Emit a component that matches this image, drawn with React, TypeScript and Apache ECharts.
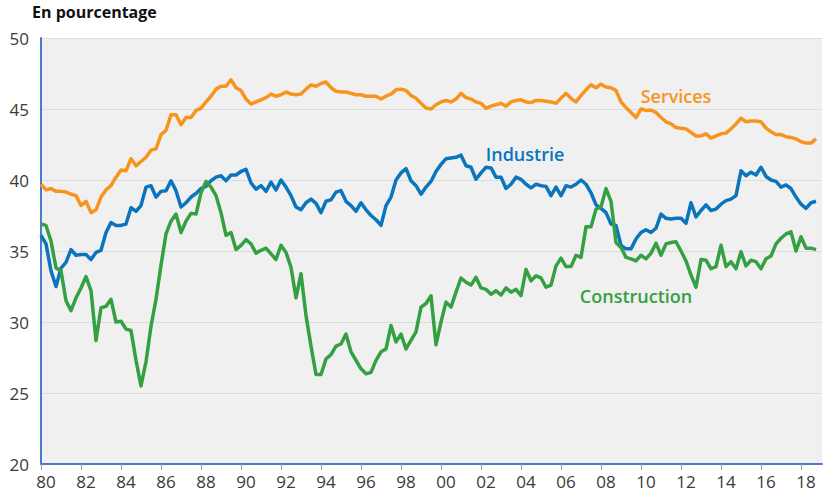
import React, { useEffect, useRef } from "react";
import * as echarts from "echarts";

const START_YEAR = 1980;
const QUARTER = 0.25;

const services = [
  39.7, 39.3, 39.4, 39.2,
  39.2, 39.15, 39.0, 38.9,
  38.2, 38.5, 37.7, 37.9,
  38.8, 39.3, 39.6, 40.2,
  40.7, 40.65, 41.5, 41.0,
  41.3, 41.6, 42.1, 42.2,
  43.2, 43.5, 44.6, 44.6,
  43.9, 44.4, 44.4, 44.9,
  45.05, 45.5, 45.9, 46.4,
  46.6, 46.6, 47.05, 46.5,
  46.3, 45.7, 45.35, 45.5,
  45.65, 45.8, 46.05, 45.9,
  46.0, 46.2, 46.05, 46.0,
  46.05, 46.4, 46.7, 46.6,
  46.8, 46.9, 46.5, 46.25,
  46.2, 46.2, 46.1, 46.0,
  46.0, 45.9, 45.9, 45.9,
  45.7, 45.9, 46.05, 46.35,
  46.4, 46.3, 45.95, 45.75,
  45.4, 45.07, 45.0, 45.3,
  45.5, 45.6, 45.5, 45.7,
  46.1, 45.8, 45.7, 45.5,
  45.4, 45.05, 45.2, 45.3,
  45.4, 45.2, 45.5, 45.6,
  45.65, 45.5, 45.45, 45.6,
  45.6, 45.55, 45.5, 45.4,
  45.75, 46.1, 45.75, 45.5,
  45.95, 46.35, 46.7, 46.5,
  46.75, 46.55, 46.5, 46.3,
  45.5, 45.1, 44.75, 44.4,
  45.0, 44.9, 44.93, 44.75,
  44.4, 44.1, 43.95, 43.7,
  43.65, 43.6, 43.35, 43.1,
  43.1, 43.25, 42.95, 43.1,
  43.25, 43.3, 43.6, 43.95,
  44.35, 44.1, 44.15, 44.15,
  44.1, 43.65, 43.4, 43.2,
  43.2, 43.05, 43.0, 42.9,
  42.7, 42.6, 42.6, 42.9,
];

const industrie = [
  36.1, 35.5, 33.6, 32.5,
  33.8, 34.2, 35.1, 34.7,
  34.75, 34.75, 34.4, 34.9,
  35.05, 36.3, 37.0, 36.8,
  36.8, 36.9, 38.05, 37.8,
  38.2, 39.5, 39.6, 38.8,
  39.2, 39.25, 39.95, 39.25,
  38.1, 38.4, 38.8, 39.05,
  39.4, 39.55, 39.95, 40.2,
  40.3, 39.95, 40.35, 40.35,
  40.6, 40.75, 39.8, 39.35,
  39.6, 39.2, 39.85, 39.3,
  40.0, 39.5, 38.9, 38.1,
  37.9, 38.4, 38.65, 38.35,
  37.7, 38.5, 38.6, 39.15,
  39.25, 38.5, 38.2, 37.8,
  38.4, 37.9, 37.5, 37.2,
  36.8, 38.2, 38.8, 40.0,
  40.5, 40.8, 39.95, 39.6,
  39.0, 39.5, 39.9, 40.6,
  41.1, 41.5, 41.55, 41.6,
  41.75, 41.0, 40.9, 40.05,
  40.5, 40.9, 40.85, 40.2,
  40.2, 39.4, 39.7, 40.2,
  40.05, 39.7, 39.45, 39.7,
  39.6, 39.55, 38.9, 39.5,
  38.9, 39.6, 39.5, 39.7,
  40.0, 39.7, 39.1, 38.25,
  38.0, 37.7, 36.9, 36.8,
  35.4, 35.15, 35.15, 35.85,
  36.3, 36.5, 36.3, 36.6,
  37.6, 37.3, 37.25, 37.3,
  37.3, 36.95, 38.4, 37.4,
  37.85, 38.25, 37.85, 37.95,
  38.3, 38.55, 38.65, 38.9,
  40.65, 40.3, 40.55, 40.35,
  40.9, 40.25, 40.0, 39.9,
  39.5, 39.65, 39.4, 38.8,
  38.3, 38.0, 38.4, 38.5,
];

const construction = [
  36.9, 36.8, 35.7, 33.8,
  33.6, 31.5, 30.8, 31.7,
  32.4, 33.2, 32.2, 28.7,
  31.0, 31.1, 31.6, 30.0,
  30.05, 29.5, 29.4, 27.3,
  25.5, 27.2, 29.7, 31.6,
  34.0, 36.2, 37.1, 37.6,
  36.3, 37.1, 37.65, 37.6,
  39.1, 39.9, 39.5, 38.9,
  37.7, 36.1, 36.3, 35.1,
  35.4, 35.8, 35.5, 34.85,
  35.05, 35.2, 34.8, 34.4,
  35.4, 34.9, 33.85, 31.7,
  33.4, 30.45, 28.3, 26.3,
  26.3, 27.4, 27.7, 28.3,
  28.45, 29.15, 27.9, 27.3,
  26.7, 26.35, 26.45, 27.3,
  27.9, 28.1, 29.75, 28.6,
  29.15, 28.1, 28.7, 29.3,
  31.05, 31.3, 31.85, 28.4,
  30.0, 31.4, 31.05, 32.1,
  33.1, 32.8, 32.6, 33.15,
  32.4, 32.3, 31.95, 32.2,
  31.9, 32.4, 32.1, 32.3,
  31.85, 33.7, 32.9, 33.25,
  33.1, 32.45, 32.6, 33.95,
  34.5, 33.9, 33.9, 34.7,
  34.55, 36.7, 36.7, 37.95,
  38.1, 39.4, 38.5, 35.6,
  35.25, 34.55, 34.45, 34.3,
  34.7, 34.45, 34.85, 35.55,
  34.7, 35.5, 35.6, 35.65,
  35.0, 34.3, 33.3, 32.45,
  34.4, 34.35, 33.75, 33.9,
  35.4, 33.9, 34.25, 33.75,
  34.95, 33.95, 34.35, 34.25,
  33.75, 34.45, 34.65, 35.5,
  35.9, 36.2, 36.35, 35.0,
  36.0, 35.2, 35.2, 35.1,
];

const seriesNames = ["Services", "Industrie", "Construction"];
const seriesColors = ["#f7941d", "#0a75bc", "#35a041"];
const yTicks = [20, 25, 30, 35, 40, 45, 50];
const titleText = "En pourcentage";

const FONT = "'Open Sans', 'Noto Sans', sans-serif";

const toPairs = (vals: number[]) =>
  vals.map((v, i) => [START_YEAR + i * QUARTER, v]);

export default function App() {
  const ref = useRef<HTMLDivElement>(null);

  useEffect(() => {
    if (!ref.current) return;
    const chart = echarts.init(ref.current, null, { renderer: "svg" });
    const allData = [services, industrie, construction];
    chart.setOption({
      animation: false,
      backgroundColor: "#ffffff",
      grid: {
        left: 41,
        top: 38,
        right: 2,
        bottom: 33,
        show: true,
        backgroundColor: "#f0f0f0",
        borderWidth: 0,
      },
      xAxis: {
        type: "value",
        min: 1980,
        max: 2019.05,
        interval: 2,
        axisLine: { show: true, lineStyle: { color: "#4a7cc9", width: 2 } },
        axisTick: { show: true, length: 6, lineStyle: { color: "#9a9a9a", width: 1 } },
        splitLine: { show: false },
        axisLabel: {
          fontFamily: FONT,
          fontSize: 17,
          color: "#3a3a3a",
          margin: 9,
          padding: [0, 0, 0, 10],
          showMaxLabel: false,
          formatter: (v: number) => String(Math.round(v) % 100).padStart(2, "0"),
        },
      },
      yAxis: {
        type: "value",
        min: yTicks[0],
        max: yTicks[yTicks.length - 1],
        interval: 5,
        axisLine: { show: true, lineStyle: { color: "#4a7cc9", width: 2 } },
        axisTick: { show: false },
        splitLine: { show: true, lineStyle: { color: "#dcdcdc", width: 1 } },
        axisLabel: {
          fontFamily: FONT,
          fontSize: 17,
          color: "#3a3a3a",
          margin: 12,
        },
      },
      graphic: [
        {
          type: "text",
          left: 32,
          top: 4,
          style: {
            text: titleText,
            font: `bold 16px ${FONT}`,
            fill: "#111111",
          },
        },
        {
          type: "text",
          x: 676,
          y: 96,
          style: {
            text: seriesNames[0],
            font: `600 18px ${FONT}`,
            fill: seriesColors[0],
            align: "center",
            verticalAlign: "middle",
          },
        },
        {
          type: "text",
          x: 525,
          y: 154,
          style: {
            text: seriesNames[1],
            font: `600 18px ${FONT}`,
            fill: seriesColors[1],
            align: "center",
            verticalAlign: "middle",
          },
        },
        {
          type: "text",
          x: 636,
          y: 296,
          style: {
            text: seriesNames[2],
            font: `600 18px ${FONT}`,
            fill: seriesColors[2],
            align: "center",
            verticalAlign: "middle",
          },
        },
      ],
      series: allData.map((vals, i) => ({
        name: seriesNames[i],
        type: "line",
        data: toPairs(vals),
        symbol: "none",
        lineStyle: { color: seriesColors[i], width: 3.5, join: "round" },
        itemStyle: { color: seriesColors[i] },
        z: 2 + i,
      })),
    });
    return () => chart.dispose();
  }, []);

  return (
    <div
      ref={ref}
      style={{ width: 824, height: 497, position: "absolute", left: 0, top: 0 }}
    />
  );
}
